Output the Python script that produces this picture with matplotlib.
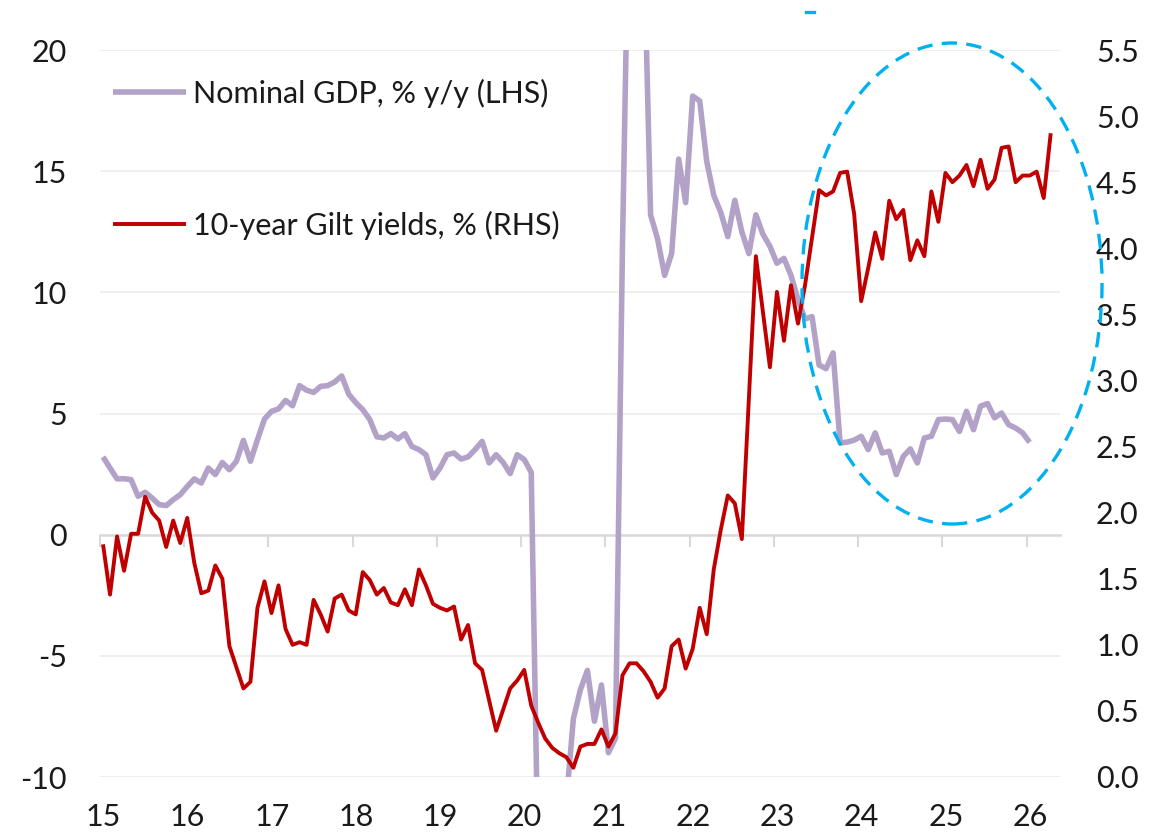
import numpy as np
import matplotlib
matplotlib.use("Agg")
import matplotlib.pyplot as plt
from matplotlib.patches import Ellipse
from matplotlib.lines import Line2D
from matplotlib.ticker import FuncFormatter

# ---------------- data (monthly, first point = Dec 2014) ----------------
nominal_gdp = [
    3.21, 2.75, 2.30, 2.31, 2.27, 1.58, 1.75, 1.51, 1.24, 1.20, 1.44, 1.65,
    1.99, 2.30, 2.13, 2.75, 2.48, 2.98, 2.68, 3.03, 3.89, 3.03, 3.92, 4.77,
    5.09, 5.19, 5.54, 5.32, 6.15, 5.96, 5.87, 6.12, 6.15, 6.30, 6.55, 5.80,
    5.45, 5.16, 4.75, 4.04, 3.99, 4.17, 3.95, 4.17, 3.64, 3.51, 3.30, 2.34,
    2.75, 3.30, 3.37, 3.12, 3.21, 3.51, 3.85, 2.96, 3.30, 2.98, 2.52, 3.30,
    3.10, 2.57, -14.0, -22.0, -24.0, -18.0, -11.0, -7.6, -6.4, -5.6, -7.7, -6.2,
    -9.0, -8.4, 12.0, 28.0, 28.0, 25.0, 13.2, 12.2, 10.7, 11.6, 15.5, 13.7,
    18.1, 17.9, 15.4, 14.0, 13.3, 12.3, 13.8, 12.5, 11.6, 13.2, 12.4, 11.9,
    11.2, 11.4, 10.7, 9.7, 8.9, 9.0, 7.0, 6.85, 7.5, 3.78, 3.82, 3.90,
    4.06, 3.51, 4.20, 3.37, 3.44, 2.48, 3.23, 3.54, 2.96, 3.99, 4.06, 4.75,
    4.77, 4.75, 4.26, 5.09, 4.33, 5.30, 5.41, 4.82, 5.02, 4.54, 4.40, 4.20,
    3.81,
]

gilt_10y = [
    1.76, 1.38, 1.82, 1.56, 1.84, 1.84, 2.12, 2.00, 1.94, 1.74, 1.94, 1.77,
    1.96, 1.62, 1.39, 1.41, 1.60, 1.50, 0.99, 0.83, 0.67, 0.72, 1.28, 1.48,
    1.24, 1.45, 1.12, 1.00, 1.02, 1.00, 1.34, 1.23, 1.10, 1.35, 1.38, 1.26,
    1.23, 1.55, 1.49, 1.38, 1.43, 1.32, 1.30, 1.42, 1.30, 1.57, 1.45, 1.31,
    1.28, 1.26, 1.29, 1.04, 1.15, 0.86, 0.81, 0.58, 0.35, 0.51, 0.67, 0.73,
    0.81, 0.54, 0.41, 0.29, 0.22, 0.18, 0.15, 0.07, 0.23, 0.25, 0.25, 0.36,
    0.23, 0.33, 0.77, 0.86, 0.86, 0.80, 0.72, 0.60, 0.67, 0.99, 1.04, 0.82,
    0.97, 1.28, 1.08, 1.57, 1.87, 2.13, 2.07, 1.80, 2.86, 3.94, 3.52, 3.10,
    3.67, 3.30, 3.72, 3.43, 3.72, 4.08, 4.44, 4.40, 4.43, 4.57, 4.58, 4.26,
    3.60, 3.85, 4.12, 3.92, 4.36, 4.22, 4.29, 3.91, 4.06, 3.94, 4.43, 4.20,
    4.57, 4.50, 4.55, 4.63, 4.47, 4.67, 4.45, 4.52, 4.76, 4.77, 4.50, 4.55,
    4.55, 4.58, 4.38, 4.87,
]

year_labels = ["15", "16", "17", "18", "19", "20", "21", "22", "23", "24", "25", "26"]
gdp_label = "Nominal GDP, % y/y (LHS)"
gilt_label = "10-year Gilt yields, % (RHS)"

# ---------------- styling ----------------
plt.rcParams["font.family"] = ["Lato", "DejaVu Sans"]
TXT = "#1a1a1a"
LAV = "#b3a2c7"
RED = "#c00000"
BLUE = "#00b0f0"
AXC = "#d9d9d9"
GRID = "#efefef"
FS = 22

W, H = 1149, 840
fig = plt.figure(figsize=(W / 100, H / 100), dpi=100)
L, R, T, B = 100, 1060, 50, 777
ax = fig.add_axes([L / W, 1 - B / H, (R - L) / W, (B - T) / H])
ax2 = ax.twinx()

x_gdp = np.arange(len(nominal_gdp))
x_gilt = np.arange(len(gilt_10y))

l1, = ax.plot(x_gdp, nominal_gdp, color=LAV, lw=4.0, solid_joinstyle="round",
              solid_capstyle="butt", label=gdp_label, zorder=3)
l2, = ax2.plot(x_gilt, gilt_10y, color=RED, lw=2.8, solid_joinstyle="round",
               solid_capstyle="butt", label=gilt_label, zorder=4)

# x axis: one tick per year
x0 = -0.43
ax.set_xlim(x0, x0 + (R - L) / 7.02)
tick_pos = [x0 + 12 * k for k in range(len(year_labels))]
ax.set_xticks(tick_pos)
ax.tick_params(axis="x", direction="out", length=8.5, width=1.5, color=AXC,
               labelbottom=False)
sec = ax.secondary_xaxis("bottom")
sec.set_xticks([p + 0.5 for p in tick_pos])
sec.set_xticklabels(year_labels)
sec.tick_params(axis="x", length=0, pad=18.5, labelsize=FS, labelcolor=TXT)
for s in sec.spines.values():
    s.set_visible(False)

# y axes
ax.set_ylim(-10, 20)
ax.set_yticks(np.arange(-10, 21, 5))
ax.yaxis.set_major_formatter(FuncFormatter(lambda v, p: f"{v:.0f}"))
ax.tick_params(axis="y", length=0, pad=24, labelsize=FS, labelcolor=TXT)
ax2.set_ylim(0, 5.5)
ax2.set_yticks(np.arange(0, 5.51, 0.5))
ax2.yaxis.set_major_formatter(FuncFormatter(lambda v, p: f"{v:.1f}"))
ax2.tick_params(axis="y", length=0, pad=26, labelsize=FS, labelcolor=TXT)

ax.yaxis.grid(True, color=GRID, lw=1.4)
ax.set_axisbelow(True)

for name, s in ax.spines.items():
    s.set_visible(False)
for s in ax2.spines.values():
    s.set_visible(False)
ax.spines["bottom"].set_visible(True)
ax.spines["bottom"].set_position(("data", 0))
ax.spines["bottom"].set_color(AXC)
ax.spines["bottom"].set_linewidth(1.8)
ax.spines["bottom"].set_zorder(2)

# highlight ellipse (drawn in RHS data coordinates)
cx_px, cy_px, w_px, h_px = 952, 283.5, 300, 481
ell = Ellipse(((cx_px - 103) / 7.02, (B - cy_px) / ((B - T) / 5.5)),
              w_px / 7.02, h_px / ((B - T) / 5.5),
              fill=False, edgecolor=BLUE, lw=2.4, ls=(0, (4.6, 2.8)),
              clip_on=False, zorder=5)
ax2.add_patch(ell)
fig.add_artist(Line2D([806 / W, 814 / W], [1 - 12 / H, 1 - 12 / H],
                      color=BLUE, lw=2.4))

# legend
fig.legend([l1, l2], [gdp_label, gilt_label], loc="upper left",
           bbox_to_anchor=(113 / W, 1 - 79 / H), frameon=False, fontsize=FS,
           handlelength=2.4, handletextpad=0.23, labelspacing=3.35,
           borderpad=0, borderaxespad=0, labelcolor=TXT)

fig.savefig("out.png", dpi=100, facecolor="white")
